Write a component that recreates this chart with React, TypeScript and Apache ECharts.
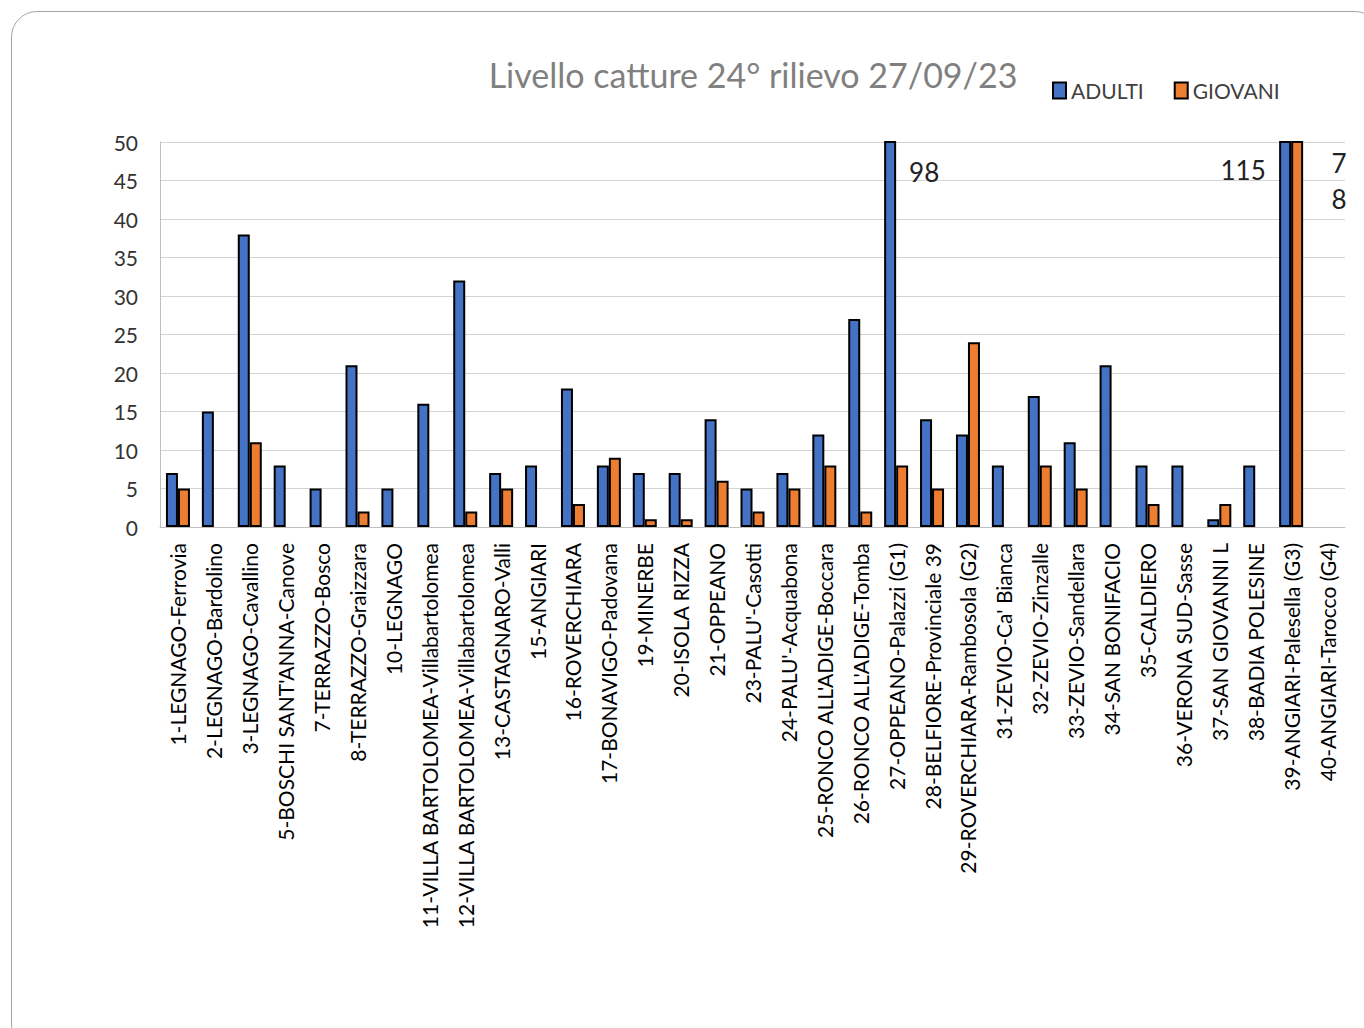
import React, { useEffect, useRef } from "react";
import * as echarts from "echarts";

const categories = [
  "1-LEGNAGO-Ferrovia",
  "2-LEGNAGO-Bardolino",
  "3-LEGNAGO-Cavallino",
  "5-BOSCHI SANT'ANNA-Canove",
  "7-TERRAZZO-Bosco",
  "8-TERRAZZO-Graizzara",
  "10-LEGNAGO",
  "11-VILLA BARTOLOMEA-Villabartolomea",
  "12-VILLA BARTOLOMEA-Villabartolomea",
  "13-CASTAGNARO-Valli",
  "15-ANGIARI",
  "16-ROVERCHIARA",
  "17-BONAVIGO-Padovana",
  "19-MINERBE",
  "20-ISOLA RIZZA",
  "21-OPPEANO",
  "23-PALU'-Casotti",
  "24-PALU'-Acquabona",
  "25-RONCO ALL'ADIGE-Boccara",
  "26-RONCO ALL'ADIGE-Tomba",
  "27-OPPEANO-Palazzi (G1)",
  "28-BELFIORE-Provinciale 39",
  "29-ROVERCHIARA-Rambosola (G2)",
  "31-ZEVIO-Ca' Bianca",
  "32-ZEVIO-Zinzalle",
  "33-ZEVIO-Sandellara",
  "34-SAN BONIFACIO",
  "35-CALDIERO",
  "36-VERONA SUD-Sasse",
  "37-SAN GIOVANNI L",
  "38-BADIA POLESINE",
  "39-ANGIARI-Palesella (G3)",
  "40-ANGIARI-Tarocco (G4)",
];

const adulti = [7, 15, 38, 8, 5, 21, 5, 16, 32, 7, 8, 18, 8, 7, 7, 14, 5, 7, 12, 27, 98, 14, 12, 8, 17, 11, 21, 8, 8, 1, 8, 115, 0];
const giovani = [5, 0, 11, 0, 0, 2, 0, 0, 2, 5, 0, 3, 9, 1, 1, 6, 2, 5, 8, 2, 8, 5, 24, 0, 8, 5, 0, 3, 0, 3, 0, 78, 0];

const yTicks = [0, 5, 10, 15, 20, 25, 30, 35, 40, 45, 50];

const FONT = "Lato, 'Open Sans', sans-serif";

export default function App() {
  const ref = useRef<HTMLDivElement>(null);
  useEffect(() => {
    document.body.style.margin = "0";
    document.body.style.overflow = "hidden";
    if (!ref.current) return;
    const chart = echarts.init(ref.current, undefined, { renderer: "svg" });
    const bigLabel = (idx: number, val: number, y: number, dx: number, text: string) => ({
      coord: [categories[idx], y],
      value: val,
      symbol: "rect",
      symbolSize: 1,
      itemStyle: { color: "rgba(0,0,0,0)" },
      label: {
        show: true,
        position: "inside",
        offset: [dx, 0],
        formatter: text,
        color: "#222",
        fontSize: 26,
        fontFamily: FONT,
        lineHeight: 36,
      },
    });
    const noZero = (arr: number[]) => arr.map((v) => (v === 0 ? "-" : v));
    const iA27 = categories.indexOf("27-OPPEANO-Palazzi (G1)");
    const iA39 = categories.indexOf("39-ANGIARI-Palesella (G3)");
    chart.setOption({
      animation: false,
      title: {
        text: "Livello catture 24° rilievo 27/09/23",
        left: 748,
        top: 52,
        textAlign: "center",
        textStyle: { color: "#808080", fontSize: 34, fontWeight: "normal", fontFamily: FONT },
      },
      legend: {
        left: 1047,
        top: 75,
        icon: "rect",
        itemWidth: 13,
        itemHeight: 16,
        itemGap: 30,
        textStyle: { color: "#404040", fontSize: 21, fontFamily: FONT, padding: [0, 0, 0, 0] },
        data: [
          { name: "ADULTI", itemStyle: { borderColor: "#000", borderWidth: 2 } },
          { name: "GIOVANI", itemStyle: { borderColor: "#000", borderWidth: 2 } },
        ],
      },
      grid: { left: 160, right: 19, top: 142, bottom: 501, containLabel: false },
      xAxis: {
        type: "category",
        data: categories,
        axisLine: { show: true, lineStyle: { color: "#bfbfbf", width: 1 } },
        axisTick: { show: false },
        axisLabel: {
          interval: 0,
          rotate: 90,
          margin: 16,
          color: "#000",
          fontSize: 21,
          fontFamily: FONT,
        },
      },
      yAxis: {
        type: "value",
        min: 0,
        max: 50,
        interval: 5,
        axisLine: { show: true, lineStyle: { color: "#bfbfbf", width: 1 } },
        axisTick: { show: false },
        splitLine: { lineStyle: { color: "#d4d4d4", width: 1 } },
        axisLabel: {
          color: "#333",
          fontSize: 21,
          fontFamily: FONT,
          margin: 22,
          formatter: (v: number) => (yTicks.includes(v) ? String(v) : ""),
        },
      },
      series: [
        {
          name: "ADULTI",
          type: "bar",
          data: noZero(adulti),
          barWidth: 12,
          barGap: "0%",
          clip: true,
          itemStyle: { color: "#4472C4", borderColor: "#000", borderWidth: 2 },
          markPoint: {
            silent: true,
            data: [
              bigLabel(iA27, 98, 46.1, 34, "98"),
              bigLabel(iA39, 115, 46.4, -42, "115"),
            ],
          },
        },
        {
          name: "GIOVANI",
          type: "bar",
          data: noZero(giovani),
          barWidth: 12,
          barGap: "0%",
          clip: true,
          itemStyle: { color: "#ED7D31", borderColor: "#000", borderWidth: 2 },
          markPoint: {
            silent: true,
            data: [bigLabel(iA39, 78, 44.9, 42, "7\n8")],
          },
        },
      ],
    });
    return () => chart.dispose();
  }, []);
  return (
    <div style={{ position: "relative", width: 1364, height: 1028, overflow: "hidden", background: "#fff" }}>
      <div
        style={{
          position: "absolute",
          left: 11,
          top: 11,
          width: 1370,
          height: 1040,
          border: "1.5px solid #a6a6a6",
          borderRadius: 26,
          boxSizing: "border-box",
        }}
      />
      <div ref={ref} style={{ position: "absolute", left: 0, top: 0, width: 1364, height: 1028 }} />
    </div>
  );
}
